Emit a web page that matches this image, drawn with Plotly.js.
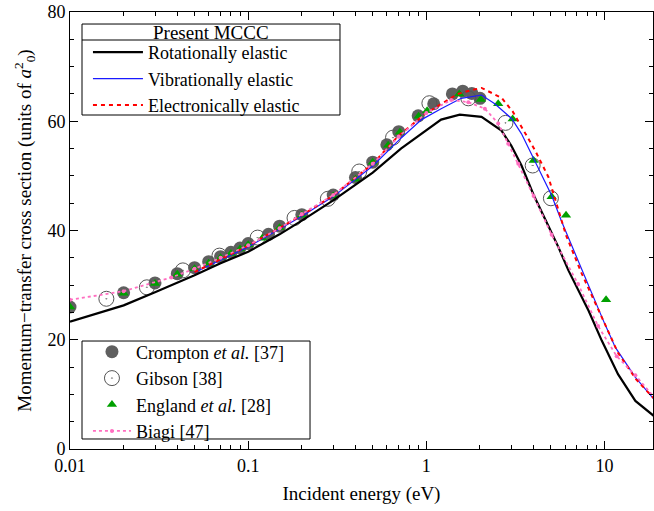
<!DOCTYPE html>
<html>
<head>
<meta charset="utf-8">
<script src="https://cdn.plot.ly/plotly-3.0.1.min.js"></script>
<style>
html,body{margin:0;padding:0;background:#fff;}
#chart{width:654px;height:511px;}
</style>
</head>
<body>
<div id="chart"></div>
<script>
// ---- data (energy in eV, cross section in a0^2) ----
var cromptonE = [0.01,0.02,0.03,0.04,0.05,0.06,0.07,0.08,0.09,0.10,0.13,0.15,0.20,0.30,0.40,0.50,0.60,0.70,0.90,1.10,1.40,1.60,1.80,2.00];
var cromptonS = [26.0,28.6,30.4,32.1,33.2,34.3,35.2,36.0,36.8,37.6,39.3,40.8,42.9,46.5,49.7,52.5,55.7,58.1,61.0,63.2,65.0,65.5,65.1,64.2];

var gibsonE = [0.016,0.027,0.043,0.069,0.113,0.182,0.28,0.42,0.65,1.04,1.72,2.78,3.95,5.0];
var gibsonS = [27.5,29.6,32.7,35.4,38.7,42.3,45.8,50.8,57.0,63.3,64.2,59.7,51.9,45.9];

var englandE = [0.01,0.02,0.03,0.04,0.05,0.06,0.07,0.08,0.09,0.10,0.12,0.15,0.20,0.30,0.40,0.50,0.61,0.71,0.905,1.01,1.53,2.02,2.53,3.05,4.0,5.05,6.08,10.2];
var englandS = [26.0,28.5,30.3,32.0,33.0,34.0,35.0,35.8,36.6,37.4,38.6,40.5,42.8,46.3,49.4,52.5,55.6,58.0,60.9,61.9,65.0,64.0,63.2,60.4,52.8,46.2,42.8,27.3];

var biagiE = [0.01,0.02,0.037,0.05,0.07,0.1,0.15,0.2,0.3,0.5,0.7,1.0,1.38,1.72,2.13,2.53,2.88,3.28,4.0,5.05,7.1,9.2,11.7,14.9,20];
var biagiS = [27.3,28.9,31.4,33.0,35.0,37.3,40.4,43.0,46.5,52.2,57.2,61.5,63.9,63.5,62.3,59.6,55.9,52.2,46.3,39.2,30.2,22.5,17.0,13.5,8.6];

var rotE = [0.01,0.02,0.03,0.05,0.07,0.1,0.15,0.2,0.3,0.5,0.72,1.0,1.21,1.54,2.04,2.64,3.0,3.42,4.0,4.73,5.5,6.27,8.14,9.66,11.9,14.9,20];
var rotS = [23.3,26.3,28.7,31.8,34.0,36.1,39.3,41.8,45.5,50.6,55.0,58.3,60.3,61.2,60.8,58.3,55.5,51.9,46.5,41.5,37.0,32.7,25.3,19.8,13.7,8.8,5.4];

var vibE = [0.05,0.1,0.2,0.3,0.5,0.72,0.94,1.21,1.57,2.04,2.42,3.01,3.42,3.9,5.05,5.75,6.85,8.14,10.0,11.5,14.9,20];
var vibS = [32.3,37.0,42.6,46.2,51.8,56.9,60.3,62.3,64.2,64.8,63.2,60.5,57.7,53.8,46.4,41.6,35.7,30.2,23.0,18.6,13.1,8.2];

var eleE = [0.05,0.1,0.2,0.3,0.5,0.7,1.0,1.21,1.5,1.79,2.04,2.64,3.05,4.07,4.84,6.1,7.45,9.66,11.9,15,20];
var eleS = [32.4,37.2,42.8,46.4,52.2,57.4,61.5,63.2,65.0,65.7,66.1,64.3,61.8,54.7,49.8,39.0,32.1,24.1,17.6,12.8,8.4];

var xTickVals = [0.01,0.1,1,10];
var xTickText = ['0.01','0.1','1','10'];
var xMinorVals = [0.02,0.03,0.04,0.05,0.06,0.07,0.08,0.09,0.2,0.3,0.4,0.5,0.6,0.7,0.8,0.9,2,3,4,5,6,7,8,9];
var yTickVals = [0,20,40,60,80];

var FONT = 'Liberation Serif';

var traces = [
  {x: cromptonE, y: cromptonS, mode: 'markers', name: 'Crompton <i>et al.</i> [37]', legend: 'legend2',
   marker: {symbol: 'circle', size: 13, color: '#5f5f5f'}},
  {x: gibsonE, y: gibsonS, mode: 'markers', name: 'Gibson [38]', legend: 'legend2',
   marker: {symbol: 'circle-open-dot', size: 15, color: '#555555', line: {width: 1}}},
  {x: englandE, y: englandS, mode: 'markers', name: 'England <i>et al.</i> [28]', legend: 'legend2',
   marker: {symbol: 'triangle-up', size: 9, color: '#00a000'}},
  {x: rotE, y: rotS, mode: 'lines', name: 'Rotationally elastic', legend: 'legend',
   line: {color: '#000000', width: 2.2}},
  {x: vibE, y: vibS, mode: 'lines', name: 'Vibrationally elastic', legend: 'legend',
   line: {color: '#1a1aff', width: 1.2}},
  {x: eleE, y: eleS, mode: 'lines', name: 'Electronically elastic', legend: 'legend',
   line: {color: '#ff0000', width: 2, dash: '4px,4px'}},
  {x: biagiE, y: biagiS, mode: 'lines+markers', name: 'Biagi [47]', legend: 'legend2',
   line: {color: '#ff6ec0', width: 1.8, dash: 'dot'}, marker: {size: 4, color: '#ff6ec0'}}
];

var layout = {
  width: 654, height: 511,
  margin: {l: 70, r: 1, t: 12, b: 62},
  paper_bgcolor: '#ffffff', plot_bgcolor: '#ffffff',
  font: {family: FONT, size: 18, color: '#000'},
  showlegend: true,
  xaxis: {
    type: 'log', range: [-2, 1.272],
    tickvals: xTickVals, ticktext: xTickText,
    ticks: 'inside', ticklen: 8, tickwidth: 1, tickcolor: '#000',
    showline: true, linecolor: '#000', linewidth: 1, mirror: 'ticks',
    showgrid: false, zeroline: false,
    tickfont: {family: FONT, size: 18, color: '#000'},
    minor: {tickvals: xMinorVals, ticks: 'inside', ticklen: 4, tickcolor: '#000', showgrid: false},
    title: {text: 'Incident energy (eV)', font: {family: FONT, size: 19}, standoff: 12}
  },
  yaxis: {
    range: [0, 80], tickvals: yTickVals,
    ticks: 'inside', ticklen: 8, tickwidth: 1, tickcolor: '#000',
    showline: true, linecolor: '#000', linewidth: 1, mirror: 'ticks',
    showgrid: false, zeroline: false,
    tickfont: {family: FONT, size: 18, color: '#000'},
    minor: {dtick: 5, ticks: 'inside', ticklen: 4, tickcolor: '#000', showgrid: false},
    title: {text: 'Momentum\u2212transfer cross section (units of <i>a</i><sup>2</sup><sub>0</sub>)', font: {family: FONT, size: 19}, standoff: 10}
  },
  legend: {
    x: 0.0308, y: 0.9497, xanchor: 'left', yanchor: 'top',
    bgcolor: 'rgba(0,0,0,0)', borderwidth: 0,
    font: {family: FONT, size: 18}, itemwidth: 50,
    traceorder: 'normal'
  },
  legend2: {
    x: 0.0308, y: 0.2643, xanchor: 'left', yanchor: 'top',
    bgcolor: 'rgba(0,0,0,0)', borderwidth: 0,
    font: {family: FONT, size: 18}, itemwidth: 38,
    traceorder: 'normal'
  },
  annotations: [
    {text: 'Present MCCC', xref: 'paper', yref: 'paper', x: 0.2419, y: 0.9542, xanchor: 'center', yanchor: 'middle',
     showarrow: false, font: {family: FONT, size: 19, color: '#000'}}
  ],
  shapes: [
    {type: 'rect', xref: 'paper', yref: 'paper', x0: 0.0206, x1: 0.4631, y0: 0.7643, y1: 0.9725,
     line: {color: '#000', width: 1}, fillcolor: 'rgba(0,0,0,0)', layer: 'above'},
    {type: 'line', xref: 'paper', yref: 'paper', x0: 0.0206, x1: 0.4631, y0: 0.9359, y1: 0.9359,
     line: {color: '#000', width: 1}, layer: 'above'},
    {type: 'rect', xref: 'paper', yref: 'paper', x0: 0.0206, x1: 0.4117, y0: 0.0229, y1: 0.2471,
     line: {color: '#000', width: 1}, fillcolor: 'rgba(0,0,0,0)', layer: 'above'}
  ]
};

Plotly.newPlot('chart', traces, layout, {staticPlot: true, displayModeBar: false});
</script>
</body>
</html>
